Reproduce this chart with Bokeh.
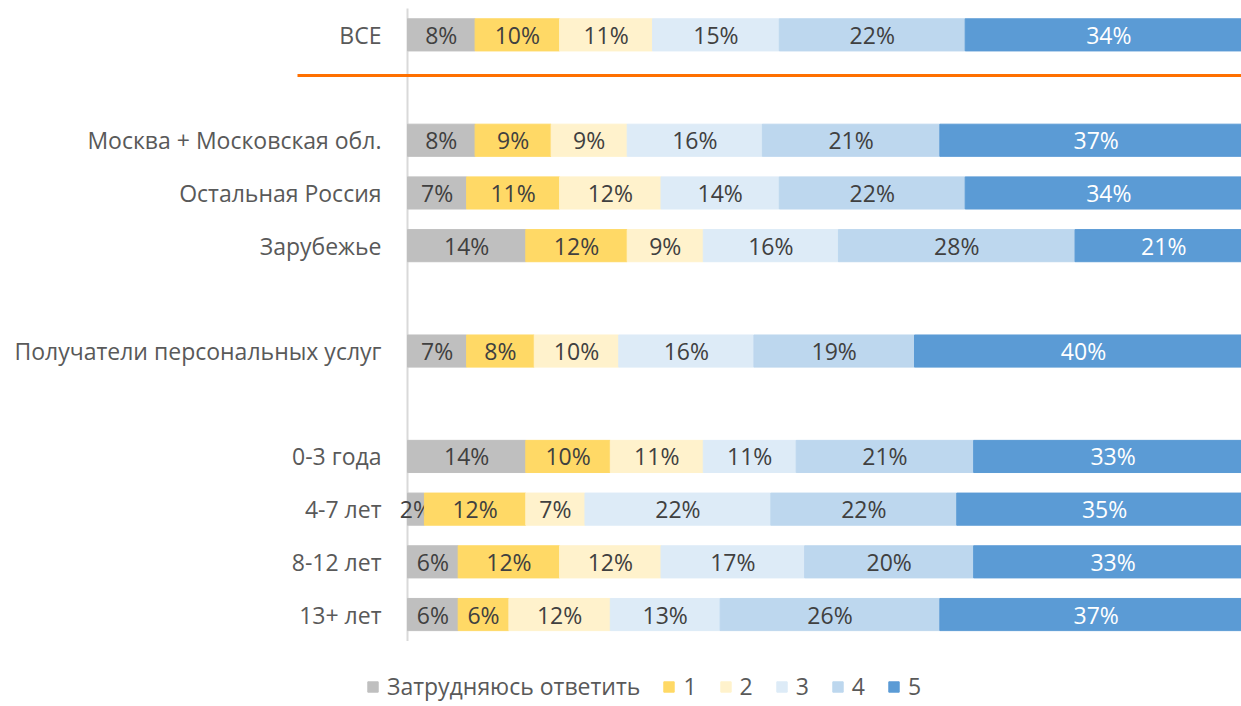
import numpy as np
from bokeh.plotting import figure
from bokeh.models import Range1d, ColumnDataSource, Legend, LegendItem
from bokeh.core.properties import value
from bokeh.embed import file_html
from bokeh.resources import INLINE

# ---- data ----
categories = ["ВСЕ", "Москва + Московская обл.", "Остальная Россия", "Зарубежье",
              "Получатели персональных услуг", "0-3 года", "4-7 лет", "8-12 лет", "13+ лет"]
slots = [0, 2, 3, 4, 6, 8, 9, 10, 11]
series_names = ["Затрудняюсь ответить", "1", "2", "3", "4", "5"]
s_hard = [8, 8, 7, 14, 7, 14, 2, 6, 6]
s_1 = [10, 9, 11, 12, 8, 10, 12, 12, 6]
s_2 = [11, 9, 12, 9, 10, 11, 7, 12, 12]
s_3 = [15, 16, 14, 16, 16, 11, 22, 17, 13]
s_4 = [22, 21, 22, 28, 19, 21, 22, 20, 26]
s_5 = [34, 37, 34, 21, 40, 33, 35, 33, 37]
series_values = [s_hard, s_1, s_2, s_3, s_4, s_5]
colors = ["#BFBFBF", "#FFD966", "#FFF2CC", "#DDEBF7", "#BDD7EE", "#5B9BD5"]
label_colors = ["#404040", "#404040", "#404040", "#404040", "#404040", "#FFFFFF"]

FONT = "Open Sans"
PX = 8.45                 # pixels per percent
X0 = -407 / PX            # left edge of the frame in data units
X1 = (1241 - 407) / PX    # right edge (chart is cropped just before 100%)

p = figure(width=1241, height=706, output_backend="svg", toolbar_location=None,
           x_range=Range1d(X0, X1), y_range=Range1d(12.745, -0.652),
           min_border_left=0, min_border_right=0, min_border_top=0,
           min_border_bottom=0, outline_line_color=None)
p.xaxis.visible = False
p.yaxis.visible = False
p.xgrid.visible = False
p.ygrid.visible = False

# category labels (left of the category axis line)
p.text(x=[-26 / PX] * len(slots), y=slots, text=categories, text_align="right",
       text_baseline="middle", text_font=value(FONT), text_font_size="23px",
       text_color="#595959")

# vertical category axis line
p.segment(x0=0, y0=-0.5, x1=0, y1=11.5, line_color="#D9D9D9", line_width=2)

left = np.zeros(len(slots))
items = []
for name, vals, col, lcol in zip(series_names, series_values, colors, label_colors):
    vals = np.array(vals, dtype=float)
    right = left + vals
    src = ColumnDataSource(dict(y=slots, left=left, right=right,
                                mid=(left + right) / 2,
                                lab=[f"{int(v)}%" for v in vals]))
    r = p.hbar(y="y", left="left", right="right", height=0.61, source=src,
               fill_color=col, line_color=col)
    p.text(x="mid", y="y", text="lab", source=src, text_align="center",
           text_baseline="middle", text_font=value(FONT), text_font_size="23px",
           text_color=lcol)
    items.append(LegendItem(label=name, renderers=[r]))
    left = right

# orange separator under "ВСЕ"
p.segment(x0=-110 / PX, y0=0.771, x1=X1, y1=0.771, line_color="#FF7000",
          line_width=3)

legend = Legend(items=items, orientation="horizontal", location=(366, 4),
                margin=0, padding=0, spacing=22, label_standoff=8,
                label_width=10, glyph_width=13, glyph_height=13,
                label_text_font=FONT, label_text_font_size="23px",
                label_text_color="#595959", border_line_color=None,
                background_fill_alpha=0)
p.add_layout(legend)

open("out.html", "w").write(file_html(p, INLINE))
